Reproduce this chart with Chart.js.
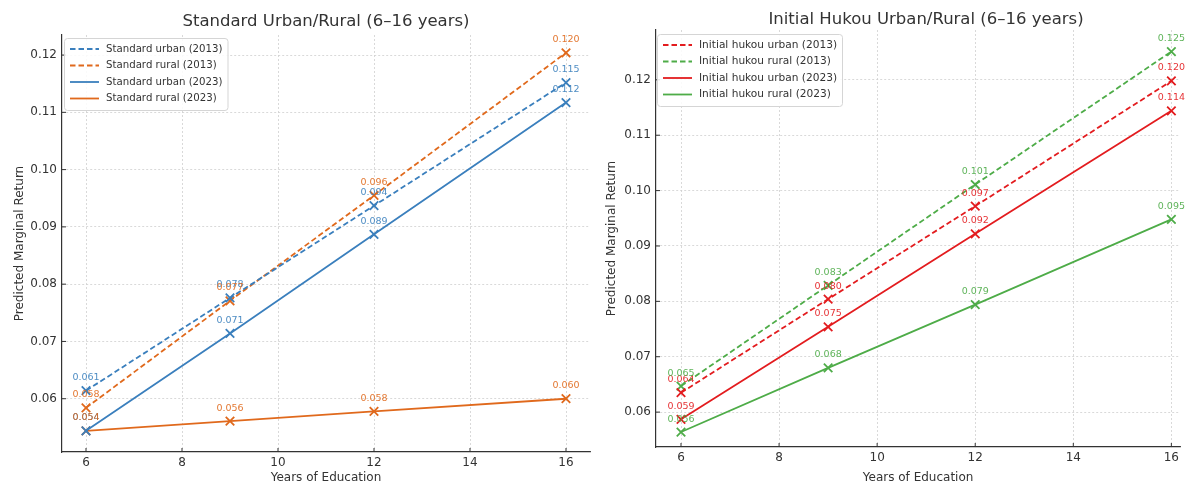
<!DOCTYPE html>
<html>
<head>
<meta charset="utf-8">
<script src="https://cdn.jsdelivr.net/npm/chart.js@4"></script>
<style>
  html, body { margin: 0; padding: 0; background: #fff; overflow: hidden; }
  body { width: 1188px; height: 485px; position: relative; }
  canvas { position: absolute; top: 0; }
  #left { left: 0; }
  #right { left: 600px; }
</style>
</head>
<body>
<canvas id="left" width="600" height="485"></canvas>
<canvas id="right" width="588" height="485"></canvas>
<script>
// --- Data ---
const years = [6, 9, 12, 16];
const xTicks = [6, 8, 10, 12, 14, 16];
const yTicks = [0.06, 0.07, 0.08, 0.09, 0.10, 0.11, 0.12];

const stdUrban2013 = [0.0614, 0.0776, 0.0937, 0.1152];
const stdRural2013 = [0.0584, 0.0771, 0.0955, 0.1204];
const stdUrban2023 = [0.0544, 0.0714, 0.0887, 0.1117];
const stdRural2023 = [0.0544, 0.0561, 0.0578, 0.0600];

const hkUrban2013 = [0.0635, 0.0804, 0.0972, 0.1198];
const hkRural2013 = [0.0647, 0.0829, 0.1011, 0.1251];
const hkUrban2023 = [0.0587, 0.0754, 0.0922, 0.1144];
const hkRural2023 = [0.0564, 0.0680, 0.0794, 0.0948];

const BLUE = '#3a7fbd', ORANGE = '#e0691c', RED = '#e31c1f', GREEN = '#4eac48';
const FONT = '"DejaVu Sans", sans-serif';

function series(label, values, color, dashed) {
  return {
    label,
    data: years.map((x, i) => ({ x, y: values[i] })),
    borderColor: color,
    backgroundColor: color,
    borderWidth: 1.8,
    borderDash: dashed ? [5.5, 3] : [],
    pointStyle: 'crossRot',
    pointRadius: 6,
    pointBorderWidth: 1.8,
    pointHoverRadius: 6,
    tension: 0
  };
}

// title centred over the full plot width (opts.cx in canvas px)
const plotTitle = {
  id: 'plotTitle',
  afterDraw(chart, args, opts) {
    const ctx = chart.ctx;
    ctx.save();
    ctx.font = '16.5px ' + FONT;
    ctx.fillStyle = '#333';
    ctx.textAlign = 'center';
    ctx.textBaseline = 'middle';
    ctx.fillText(opts.text, opts.cx, opts.y);
    ctx.restore();
  }
};

// values printed above each marker
const valueLabels = {
  id: 'valueLabels',
  afterDatasetsDraw(chart) {
    const ctx = chart.ctx;
    ctx.save();
    ctx.font = '9.5px ' + FONT;
    ctx.textAlign = 'center';
    ctx.textBaseline = 'middle';
    chart.data.datasets.forEach((ds, i) => {
      chart.getDatasetMeta(i).data.forEach((pt, j) => {
        ctx.fillStyle = ds.borderColor;
        ctx.globalAlpha = 0.9;
        ctx.fillText(ds.data[j].y.toFixed(3), pt.x, pt.y - 13);
      });
    });
    ctx.restore();
  }
};

// short inward tick marks like matplotlib
const innerTicks = {
  id: 'innerTicks',
  afterDraw(chart) {
    const ctx = chart.ctx, a = chart.chartArea;
    const xs = chart.scales.x, ys = chart.scales.y;
    ctx.save();
    ctx.strokeStyle = '#333';
    ctx.lineWidth = 1;
    ctx.beginPath();
    xs.ticks.forEach(t => {
      const px = xs.getPixelForValue(t.value);
      ctx.moveTo(px, a.bottom); ctx.lineTo(px, a.bottom - 4);
    });
    ys.ticks.forEach(t => {
      const py = ys.getPixelForValue(t.value);
      ctx.moveTo(a.left, py); ctx.lineTo(a.left + 4, py);
    });
    ctx.stroke();
    ctx.restore();
  }
};

// legend box inside the plot, upper left
const boxLegend = {
  id: 'boxLegend',
  afterDraw(chart, args, opts) {
    const ctx = chart.ctx, a = chart.chartArea;
    const x0 = a.left + opts.dx, y0 = a.top + opts.dy;
    const dsets = chart.data.datasets;
    ctx.save();
    ctx.font = opts.size + 'px ' + FONT;
    let w = 0;
    dsets.forEach(d => { w = Math.max(w, ctx.measureText(d.label).width); });
    const boxW = w + 47, rowH = 16.5, boxH = rowH * dsets.length + 6;
    ctx.fillStyle = 'rgba(255,255,255,0.85)';
    ctx.strokeStyle = '#d5d5d5';
    ctx.lineWidth = 1;
    ctx.beginPath();
    ctx.roundRect(x0 + 0.5, y0 + 0.5, boxW, boxH, 3);
    ctx.fill();
    ctx.stroke();
    dsets.forEach((d, i) => {
      const cy = y0 + 11 + i * rowH;
      ctx.strokeStyle = d.borderColor;
      ctx.lineWidth = 1.8;
      ctx.setLineDash(d.borderDash);
      ctx.beginPath();
      ctx.moveTo(x0 + 6, cy); ctx.lineTo(x0 + 35, cy);
      ctx.stroke();
      ctx.setLineDash([]);
      ctx.fillStyle = '#333';
      ctx.textBaseline = 'middle';
      ctx.fillText(d.label, x0 + 42, cy);
    });
    ctx.restore();
  }
};

function makeChart(id, title, datasets, cfg) {
  return new Chart(document.getElementById(id), {
    type: 'line',
    data: { datasets },
    plugins: [valueLabels, innerTicks, boxLegend, plotTitle],
    options: {
      responsive: false,
      animation: false,
      layout: { padding: { right: cfg.padRight, left: 0, top: cfg.padTop, bottom: 0 } },
      plugins: {
        legend: { display: false },
        tooltip: { enabled: false },
        title: { display: false },
        plotTitle: { text: title, y: cfg.titleY, cx: cfg.titleX },
        boxLegend: cfg.legend
      },
      scales: {
        x: {
          type: 'linear', min: cfg.xMin, max: cfg.xMax,
          afterBuildTicks: s => { s.ticks = xTicks.map(v => ({ value: v })); },
          afterFit: s => { s.height = cfg.xHeight; },
          ticks: { color: '#333', font: { family: FONT, size: 12 }, padding: 4 },
          grid: { color: '#d0d0d0', lineWidth: 0.8, tickLength: 0 },
          border: { display: true, color: '#333', width: 1.2, dash: [2, 2] },
          title: {
            display: true, text: 'Years of Education', color: '#333',
            font: { family: FONT, size: 12 }, padding: { top: 0, bottom: 0 }
          }
        },
        y: {
          type: 'linear', min: cfg.yMin, max: cfg.yMax,
          afterBuildTicks: s => { s.ticks = yTicks.map(v => ({ value: v })); },
          afterFit: s => { s.width = cfg.yWidth; },
          ticks: {
            color: '#333', font: { family: FONT, size: 12 }, padding: 5,
            callback: v => v.toFixed(2)
          },
          grid: { color: '#d0d0d0', lineWidth: 0.8, tickLength: 0 },
          border: { display: true, color: '#333', width: 1.2, dash: [2, 2] },
          title: {
            display: true, text: 'Predicted Marginal Return', color: '#333',
            font: { family: FONT, size: 12 }, padding: { top: cfg.yTitlePad, bottom: 0 }
          }
        }
      }
    }
  });
}

makeChart('left', 'Standard Urban/Rural (6\u201316 years)', [
  series('Standard urban (2013)', stdUrban2013, BLUE, true),
  series('Standard rural (2013)', stdRural2013, ORANGE, true),
  series('Standard urban (2023)', stdUrban2023, BLUE, false),
  series('Standard rural (2023)', stdRural2023, ORANGE, false)
], {
  padRight: 10, padTop: 35, titleY: 22, titleX: 326, xHeight: 33, yWidth: 62, yTitlePad: 13,
  xMin: 5.5, xMax: 16.5,
  yMin: 0.0507, yMax: 0.1235, legend: { dx: 2, dy: 3, size: 10.2 }
});

makeChart('right', 'Initial Hukou Urban/Rural (6\u201316 years)', [
  series('Initial hukou urban (2013)', hkUrban2013, RED, true),
  series('Initial hukou rural (2013)', hkRural2013, GREEN, true),
  series('Initial hukou urban (2023)', hkUrban2023, RED, false),
  series('Initial hukou rural (2023)', hkRural2023, GREEN, false)
], {
  padRight: 0, padTop: 30, titleY: 20, titleX: 326, xHeight: 38, yWidth: 56, yTitlePad: 5,
  xMin: 5.49, xMax: 16.18,
  yMin: 0.0537, yMax: 0.129, legend: { dx: 1, dy: 4, size: 10.6 }
});
</script>
</body>
</html>
